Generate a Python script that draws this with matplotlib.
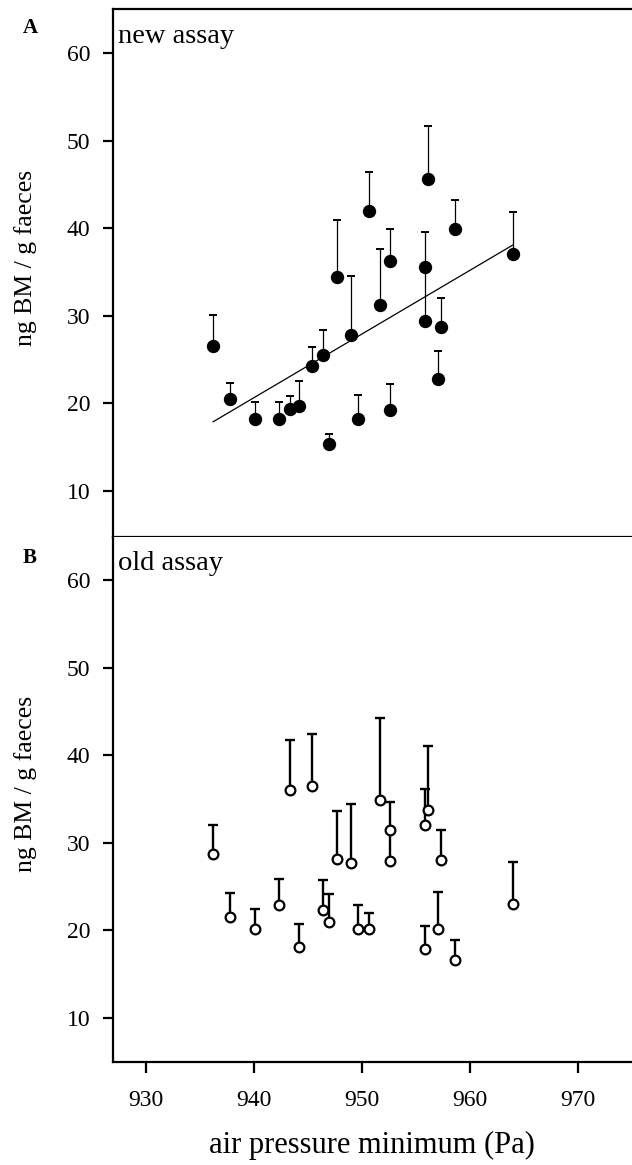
import numpy as np
import matplotlib
matplotlib.use("Agg")
import matplotlib.pyplot as plt

plt.rcParams["font.family"] = ["Liberation Serif", "DejaVu Serif"]

# air pressure minimum (Pa), shared by both assays
pressure = [936.2, 937.8, 940.1, 942.3, 943.3, 944.2, 945.4, 946.4, 946.9, 947.7,
            949.0, 949.6, 950.6, 951.7, 952.6, 952.6, 955.8, 955.8, 956.1, 957.0,
            957.3, 958.6, 964.0]

# new assay: mean and upper error (ng BM / g faeces)
new_mean = [26.6, 20.5, 18.2, 18.2, 19.4, 19.7, 24.3, 25.5, 15.3, 34.4,
            27.8, 18.2, 42.0, 31.2, 36.3, 19.2, 35.6, 29.4, 45.7, 22.8,
            28.7, 39.9, 37.1]
new_se = [3.5, 1.8, 2.0, 2.0, 1.4, 2.8, 2.1, 2.9, 1.2, 6.6,
          6.8, 2.8, 4.4, 6.4, 3.6, 3.0, 4.0, 5.6, 6.0, 3.2,
          3.3, 3.4, 4.8]

# old assay
old_mean = [28.7, 21.5, 20.1, 22.9, 36.0, 18.1, 36.5, 22.3, 20.9, 28.1,
            27.7, 20.1, 20.1, 34.9, 31.5, 27.9, 32.0, 17.9, 33.7, 20.1,
            28.0, 16.6, 23.0]
old_se = [3.3, 2.7, 2.3, 3.0, 5.7, 2.6, 5.9, 3.4, 3.2, 5.5,
          6.7, 2.8, 1.9, 9.3, 3.1, 3.6, 4.1, 2.6, 7.4, 4.3,
          3.4, 2.3, 4.8]

yticks = [10, 20, 30, 40, 50, 60]
xticks = [930, 940, 950, 960, 970]

x = np.array(pressure)

fig = plt.figure(figsize=(6.32, 11.65), dpi=100)
ax1 = fig.add_axes([0.1783, 0.5393, 0.8217, 0.4527])
ax2 = fig.add_axes([0.1783, 0.0888, 0.8217, 0.4505])

# panel A - new assay
ax1.errorbar(x, new_mean, yerr=[np.zeros(len(x)), new_se], fmt="none",
             ecolor="black", elinewidth=0.9, capsize=3.2, capthick=1.4, zorder=2)
ax1.plot(x, new_mean, "o", color="black", ms=8.6, zorder=3)
b, a = np.polyfit(x, new_mean, 1)
xf = np.array([x.min(), x.max()])
ax1.plot(xf, a + b * xf, color="black", lw=0.9, zorder=2)

# panel B - old assay
ax2.errorbar(x, old_mean, yerr=[np.zeros(len(x)), old_se], fmt="none",
             ecolor="black", elinewidth=1.7, capsize=3.4, capthick=1.7, zorder=2)
ax2.plot(x, old_mean, "o", mfc="white", mec="black", mew=1.6, ms=7.0, zorder=3)

for ax in (ax1, ax2):
    ax.set_xlim(926.9, 975.0)
    ax.set_yticks(yticks)
    ax.spines["right"].set_visible(False)
    for s in ("left", "bottom", "top"):
        ax.spines[s].set_linewidth(1.6)
    ax.tick_params(axis="y", length=7.5, width=1.6, pad=8.5, labelsize=17)
    ax.set_ylabel("ng BM / g faeces", fontsize=18.5)
    ax.yaxis.set_label_coords(-0.146, 0.528)

ax1.set_ylim(4.75, 65.05)
ax2.set_ylim(5.0, 64.95)
ax1.set_xticks([])
ax2.spines["top"].set_visible(False)
ax2.set_xticks(xticks)
ax2.tick_params(axis="x", length=7.7, width=1.6, pad=13, labelsize=17)
ax2.set_xlabel("air pressure minimum (Pa)", fontsize=22, labelpad=14)

ax1.text(0.011, 0.937, "new assay", transform=ax1.transAxes, fontsize=20.5,
         ha="left", va="baseline")
ax2.text(0.011, 0.937, "old assay", transform=ax2.transAxes, fontsize=20.5,
         ha="left", va="baseline")

fig.text(30 / 632, 1 - 28 / 1165, "A", fontsize=15, fontweight="bold",
         ha="center", va="center")
fig.text(30 / 632, 1 - 558 / 1165, "B", fontsize=15, fontweight="bold",
         ha="center", va="center")

fig.savefig("out.png", dpi=100)
